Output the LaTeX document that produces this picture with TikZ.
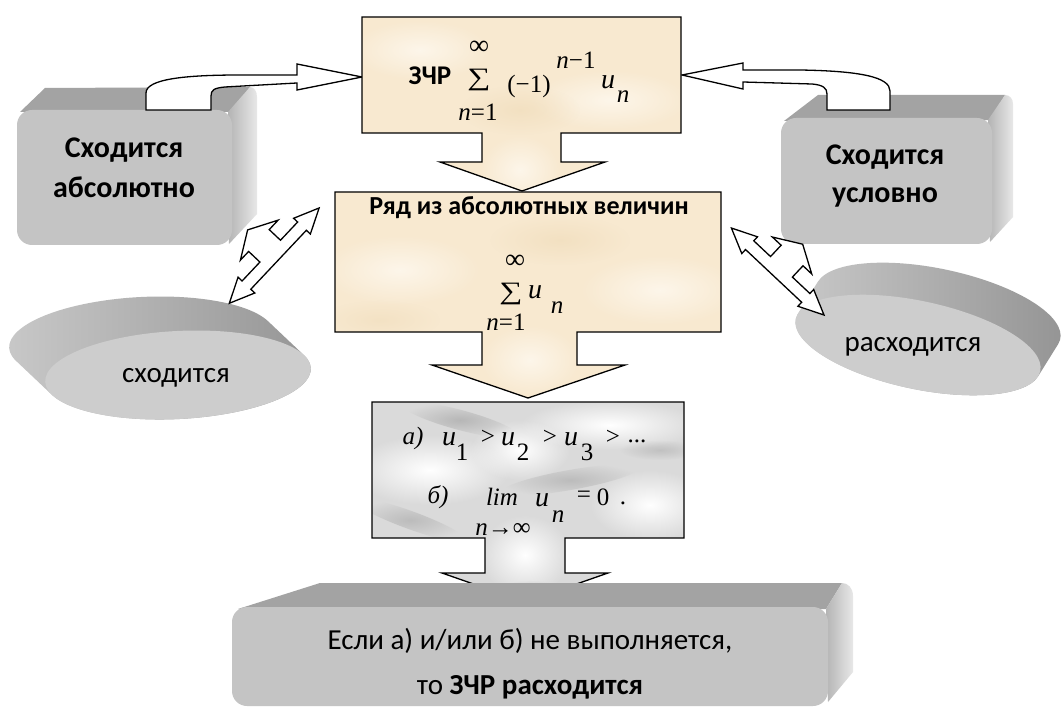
\documentclass[tikz,border=0pt]{standalone}
\usepackage{fontspec}
\usetikzlibrary{fadings}
\setmainfont{Carlito}
\newfontfamily\tnr{Liberation Serif}
\tikzfading[name=softblob, inner color=transparent!0, outer color=transparent!100]
\definecolor{beige}{HTML}{F8E9D0}
\definecolor{beigelt}{HTML}{FDF6EA}
\definecolor{beigedk}{HTML}{EFDBB8}
\definecolor{marble}{HTML}{DADADA}
\definecolor{marbledk}{HTML}{A8A8A8}
\definecolor{frontc}{HTML}{C4C4C4}
\definecolor{topc}{HTML}{A3A3A3}
\definecolor{sidea}{HTML}{B4B4B4}
\definecolor{sideb}{HTML}{E8E8E8}
\definecolor{ellf}{HTML}{CDCDCD}
\definecolor{ella}{HTML}{CACACA}
\definecolor{ellb}{HTML}{939393}
\newcommand{\pthA}{(362,17) -- (681,17) -- (681,133) -- (561,133) -- (561,162) -- (605,162) -- (522,191) -- (440,162) -- (482,162) -- (482,133) -- (362,133) -- cycle}
\newcommand{\pthB}{(335,192) -- (721,192) -- (721,332) -- (577,332) -- (577,365) -- (625,365) -- (528,398) -- (432,365) -- (482,365) -- (482,332) -- (335,332) -- cycle}
\newcommand{\pthC}{(372,402) -- (684,402) -- (684,538) -- (565,538) -- (565,573) -- (608,573) -- (525,602) -- (442,573) -- (485,573) -- (485,538) -- (372,538) -- cycle}
\newcommand{\bigsum}{\scalebox{1.3}[1.0]{\fontsize{25}{25}\selectfont ∑}}
\begin{document}
\begin{tikzpicture}[x=1pt,y=-1pt,line join=miter,
  outl/.style={draw=black,line width=1.3pt},
  barrow/.style={draw=black,fill=white,line width=1.3pt},
  bigb/.style={font=\bfseries\fontsize{30}{40}\selectfont,align=center,inner sep=0pt},
  regt/.style={font=\fontsize{29}{45}\selectfont,align=center,inner sep=0pt},
  mth/.style={font=\tnr\fontsize{25}{25}\selectfont,inner sep=0pt},
  mthi/.style={font=\tnr\itshape\fontsize{25}{25}\selectfont,inner sep=0pt},
  mthu/.style={font=\tnr\itshape\fontsize{28}{28}\selectfont,inner sep=0pt},
  soft/.style={path fading=softblob}]
\useasboundingbox (0,0) rectangle (1062,708);
\fill[white] (0,0) rectangle (1062,708);

% ---- left 3D box
\fill[topc] (20,112) -- (45,88) -- (250,87) -- (232,112) -- cycle;
\shade[left color=sidea,right color=sideb] (228,112) -- (250,87) .. controls (254,87) and (257,91) .. (257,97) -- (257,214) -- (229,244) -- cycle;
\fill[frontc,rounded corners=15] (17,110) rectangle (232,245);
% ---- right 3D box
\fill[topc] (784,121) -- (818,95) -- (1005,95) -- (990,120) -- cycle;
\shade[left color=sidea,right color=sideb] (988,120) -- (1005,95) .. controls (1010,95) and (1013,99) .. (1013,104) -- (1013,217) -- (990,242) -- cycle;
\fill[frontc,rounded corners=15] (781,118) rectangle (992,244);

% ---- curved arrows
\draw[barrow] (146,110) -- (146,93) .. controls (146,79) and (185,75) .. (240,75) -- (297,75) -- (297,64) -- (362,77) -- (297,90) -- (297,83) -- (225,87) .. controls (214,88) and (211,90) .. (211,96) -- (211,110) -- cycle;
\draw[barrow] (890,110) -- (890,91) .. controls (890,77) and (860,71) .. (800,70) -- (743,70) -- (743,63) -- (682,75) -- (743,89) -- (743,82) -- (812,84) .. controls (823,85) and (827,88) .. (827,94) -- (827,110) -- cycle;

% ---- left ellipse
\begin{scope}[shift={(178,375)},rotate=3]
  \shade[left color=ella,right color=ellb] (-161,-22.6) arc[start angle=162.5,end angle=342.5,x radius=133,y radius=44] -- (126.8,-13.2) arc[start angle=-17.5,end angle=162.5,x radius=133,y radius=44] -- cycle;
  \fill[ellf] (0,0) ellipse [x radius=133,y radius=44];
\end{scope}
% ---- right ellipse
\begin{scope}[shift={(918,345)},rotate=-12]
  \shade[left color=ella,right color=ellb] (-111.1,-41.1) arc[start angle=187.3,end angle=367.3,x radius=125,y radius=44] -- (124,5.6) arc[start angle=7.3,end angle=187.3,x radius=125,y radius=44] -- cycle;
  \fill[ellf] (0,0) ellipse [x radius=125,y radius=44];
\end{scope}

% ---- double arrows
\begin{scope}[shift={(229.3,303.3)},rotate=46.7]
  \draw[barrow] (0,0) -- (25,-11.5) -- (25,-6) -- (51,-6) -- (51,-21.5) -- (39,-21.5) -- (66,-37) -- (94,-21.5) -- (81,-21.5) -- (81,-6) -- (106,-6) -- (106,-11.5) -- (131,0) -- (106,11.5) -- (106,6) -- (25,6) -- (25,11.5) -- cycle;
\end{scope}
\begin{scope}[shift={(824,315)},xscale=-1,rotate=43.2]
  \draw[barrow] (0,0) -- (25,-11.5) -- (25,-6) -- (49,-6) -- (49,-21.5) -- (37,-21.5) -- (64,-37) -- (91,-21.5) -- (79,-21.5) -- (79,-6) -- (102,-6) -- (102,-11.5) -- (127,0) -- (102,11.5) -- (102,6) -- (25,6) -- (25,11.5) -- cycle;
\end{scope}

% ---- callout A
\fill[beige] \pthA;
\begin{scope}
  \clip \pthA;
  \fill[beigelt,soft] (420,50) ellipse [x radius=70,y radius=30];
  \fill[beigelt,soft] (610,100) ellipse [x radius=80,y radius=30];
  \fill[beigedk,soft,opacity=.6] (520,110) ellipse [x radius=60,y radius=25];
  \fill[beigelt,soft] (520,170) ellipse [x radius=40,y radius=35];
\end{scope}
\draw[outl] \pthA;
% ---- callout B
\fill[beige] \pthB;
\begin{scope}
  \clip \pthB;
  \fill[beigelt,soft] (400,270) ellipse [x radius=80,y radius=35];
  \fill[beigelt,soft] (660,290) ellipse [x radius=80,y radius=35];
  \fill[beigedk,soft,opacity=.6] (560,240) ellipse [x radius=70,y radius=25];
  \fill[beigedk,soft,opacity=.5] (380,320) ellipse [x radius=60,y radius=20];
  \fill[beigelt,soft] (530,360) ellipse [x radius=50,y radius=35];
\end{scope}
\draw[outl] \pthB;
% ---- callout C (marble)
\fill[marble] \pthC;
\begin{scope}
  \clip \pthC;
  \fill[white,soft] (430,470) ellipse [x radius=80,y radius=35];
  \fill[white,soft] (610,425) ellipse [x radius=90,y radius=25];
  \fill[white,soft] (650,505) ellipse [x radius=60,y radius=35];
  \fill[white,soft] (525,555) ellipse [x radius=45,y radius=40];
  \fill[white,soft] (520,450) ellipse [x radius=50,y radius=30];
  \fill[marbledk,soft,opacity=.7,rotate around={-15:(460,420)}] (460,420) ellipse [x radius=60,y radius=10];
  \fill[marbledk,soft,opacity=.6,rotate around={10:(570,480)}] (570,480) ellipse [x radius=70,y radius=10];
  \fill[marbledk,soft,opacity=.6,rotate around={-20:(410,520)}] (410,520) ellipse [x radius=60,y radius=9];
  \fill[marbledk,soft,opacity=.5] (660,450) ellipse [x radius=40,y radius=10];
  \fill[marbledk,soft,opacity=.5] (530,590) ellipse [x radius=30,y radius=10];
\end{scope}
\draw[outl] \pthC;

% ---- bottom 3D box
\fill[topc] (238,609) -- (320,583) -- (842,583) -- (826,609) -- cycle;
\shade[left color=sidea,right color=sideb] (826,609) -- (842,583) .. controls (848,583) and (853,588) .. (853,596) -- (853,672) -- (828,702) -- cycle;
\fill[frontc,rounded corners=15] (232,607) rectangle (828,706);

% ---- texts
\node[bigb] (abs) at (124,168) {Сходится\\абсолютно};
\node[bigb,font=\bfseries\fontsize{30}{38}\selectfont] (usl) at (885,176) {Сходится\\условно};
\node[regt] (conv) at (176,378) {сходится};
\node[regt] (div) at (913,347) {расходится};
\node[regt] (res) at (530,664) {Если а) и/или б) не выполняется,\\то \textbf{ЗЧР расходится}};

\node[font=\bfseries\fontsize{27}{27}\selectfont,inner sep=0pt] (zchr) at (430,76) {ЗЧР};
\node[mth,font=\tnr\fontsize{28}{28}\selectfont] (a1) at (479,48) {∞};
\node[mth] (a2) at (479,80) {\bigsum};
\node[mth] (a3) at (478,112) {\itshape n\upshape=1};
\node[mth] (a4) at (529,86) {(−1)};
\node[mth] (a5) at (576,60) {\itshape n\upshape−1};
\node[mthu] (a6) at (608,82) {u};
\node[mthi] (a7) at (623,97) {n};

\node[font=\bfseries\fontsize{26}{26}\selectfont,inner sep=0pt] (title) at (529,208) {Ряд из абсолютных величин};
\node[mth,font=\tnr\fontsize{28}{28}\selectfont] (b1) at (515,262) {∞};
\node[mth] (b2) at (511,294) {\bigsum};
\node[mth] (b3) at (506,322) {\itshape n\upshape=1};
\node[mthu] (b4) at (535,292) {u};
\node[mthi] (b5) at (557,308) {n};

\node[mthi] (c1) at (413,438) {а)};
\node[mthu] (c2) at (449,439) {u};
\node[mth] (c3) at (462,452) {1};
\node[mth] (c4) at (488,437) {>};
\node[mthu] (c5) at (508,439) {u};
\node[mth] (c6) at (523,452) {2};
\node[mth] (c7) at (550,437) {>};
\node[mthu] (c8) at (571,439) {u};
\node[mth] (c9) at (587,452) {3};
\node[mth] (c10) at (613,437) {>};
\node[mth] (c11) at (637,441) {...};

\node[mthi] (d1) at (438,497) {б)};
\node[mthi] (d2) at (502,497) {lim};
\node[mthu] (d3) at (542,500) {u};
\node[mthi] (d4) at (558,517) {n};
\node[mth] (d5) at (584,497) {=};
\node[mth] (d6) at (603,497) {0};
\node[mth] (d7) at (623,503) {.};
\node[mth] (d8) at (503,529) {\itshape n\upshape→∞};
\end{tikzpicture}
\end{document}
